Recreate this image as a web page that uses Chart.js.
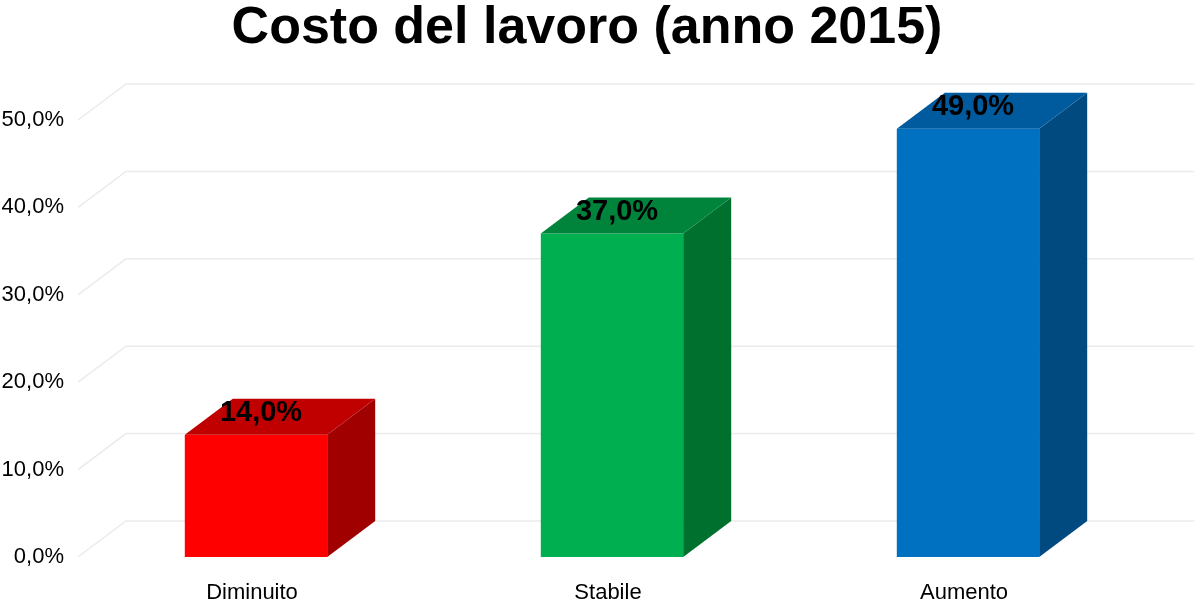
<!DOCTYPE html>
<html>
<head>
<meta charset="utf-8">
<script src="https://cdn.jsdelivr.net/npm/chart.js@4/dist/chart.umd.min.js"></script>
<style>
  html, body { margin: 0; padding: 0; background: #fff; }
  #wrap { width: 1200px; height: 600px; }
</style>
</head>
<body>
<div id="wrap"><canvas id="chart" width="1200" height="600"></canvas></div>
<script>
const titleText = 'Costo del lavoro (anno 2015)';
const categories = ['Diminuito', 'Stabile', 'Aumento'];
const values = [14, 37, 49];
const yTicks = [0, 10, 20, 30, 40, 50];

const frontColors = ['#FF0000', '#00B050', '#0070C0'];
const topColors   = ['#C00000', '#00843C', '#005A9E'];
const sideColors  = ['#A00000', '#00702F', '#004A80'];

const DX = 48, DY = 36;
const fmtPct = (v) => v.toFixed(1).replace('.', ',') + '%';

const deco = {
  id: 'deco',
  beforeDatasetsDraw(chart) {
    const c = chart.ctx, y = chart.scales.y, area = chart.chartArea;
    c.save();
    c.strokeStyle = '#EBEBEB';
    c.lineWidth = 1.5;
    yTicks.forEach(t => {
      const py = y.getPixelForValue(t);
      c.beginPath();
      c.moveTo(area.left, py);
      c.lineTo(area.left + DX, py - DY);
      c.lineTo(area.right + DX, py - DY);
      c.stroke();
    });
    c.restore();
  },
  afterDatasetsDraw(chart) {
    const c = chart.ctx;
    const meta = chart.getDatasetMeta(0);
    c.save();
    meta.data.forEach((bar, i) => {
      const p = bar.getProps(['x', 'y', 'base', 'width'], true);
      const l = p.x - p.width / 2, r = p.x + p.width / 2;
      // side face
      c.fillStyle = sideColors[i];
      c.beginPath();
      c.moveTo(r, p.y);
      c.lineTo(r + DX, p.y - DY);
      c.lineTo(r + DX, p.base - DY);
      c.lineTo(r, p.base);
      c.closePath();
      c.fill();
      // top face
      c.fillStyle = topColors[i];
      c.beginPath();
      c.moveTo(l, p.y);
      c.lineTo(l + DX, p.y - DY);
      c.lineTo(r + DX, p.y - DY);
      c.lineTo(r, p.y);
      c.closePath();
      c.fill();
    });
    // data labels
    c.fillStyle = '#000';
    c.font = 'bold 29px "Liberation Sans", Arial, sans-serif';
    c.textAlign = 'center';
    c.textBaseline = 'middle';
    meta.data.forEach((bar, i) => {
      const p = bar.getProps(['x', 'y'], true);
      c.fillText(fmtPct(values[i]), p.x + 5, p.y - 22);
    });
    // title
    c.font = 'bold 52px "Liberation Sans", Arial, sans-serif';
    c.fillText(titleText, 587, 29);
    c.restore();
  }
};

new Chart(document.getElementById('chart'), {
  type: 'bar',
  data: {
    labels: categories,
    datasets: [{
      data: values,
      backgroundColor: frontColors,
      borderWidth: 0,
      barPercentage: 0.8,
      categoryPercentage: 0.5
    }]
  },
  options: {
    responsive: false,
    animation: false,
    layout: { padding: { top: 120, right: 54, left: 0, bottom: 0 } },
    plugins: { legend: { display: false }, tooltip: { enabled: false } },
    scales: {
      x: {
        grid: { display: false },
        border: { display: false },
        ticks: { color: '#000', padding: 15, labelOffset: -4, font: { family: '"Liberation Sans", Arial', size: 22 } },
        afterFit(s) { s.height = 43; }
      },
      y: {
        min: 0, max: 50,
        grid: { display: false, drawTicks: false },
        border: { display: false },
        ticks: {
          stepSize: 10, color: '#000', padding: 14,
          font: { family: '"Liberation Sans", Arial', size: 22 },
          callback: (v) => fmtPct(v)
        },
        afterFit(s) { s.width = 78; }
      }
    }
  },
  plugins: [deco]
});
</script>
</body>
</html>
